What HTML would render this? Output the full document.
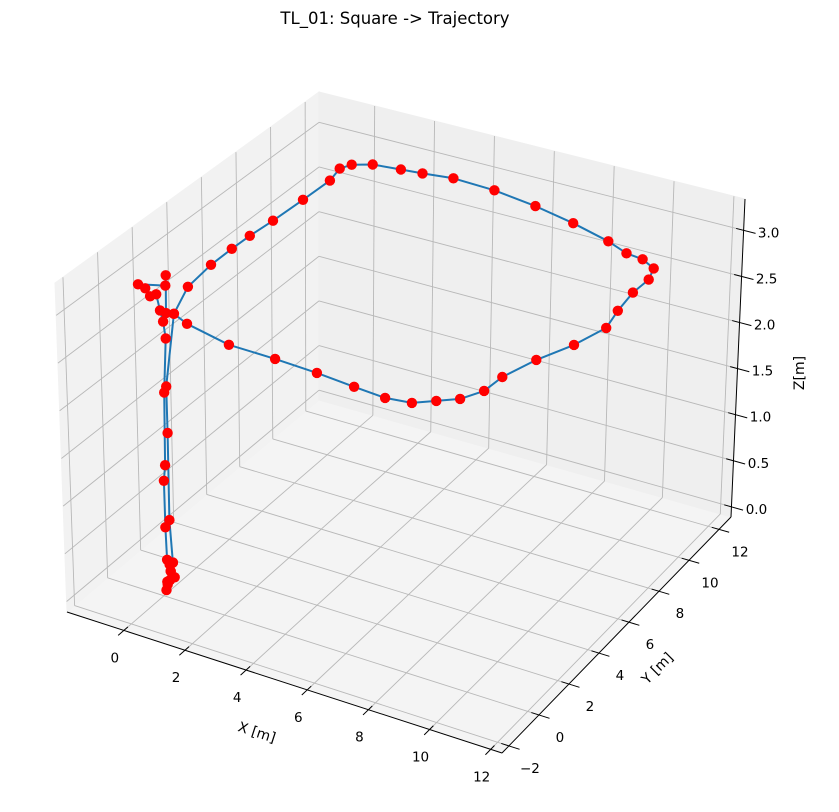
<!DOCTYPE html>
<html><head><meta charset="utf-8">
<style>
html,body{margin:0;padding:0;background:#fff;}
svg{display:block;font-family:"DejaVu Sans","Liberation Sans",sans-serif;}
</style></head>
<body>
<svg id="chart" width="839" height="812" viewBox="0 0 839 812" xmlns="http://www.w3.org/2000/svg">
<text x="395" y="24" font-size="16.5" text-anchor="middle" fill="#000">TL_01: Square -&gt; Trajectory</text>
<g id="panes"></g>
<g id="grid"></g>
<g id="axes"></g>
<g id="series"></g>
<text x="257" y="737" font-size="14" text-anchor="middle" transform="rotate(18 257 732)">X [m]</text>
<text x="657" y="673" font-size="14" text-anchor="middle" transform="rotate(-45 657 668)">Y [m]</text>
<text x="799" y="378" font-size="14" text-anchor="middle" transform="rotate(-90 799 373)">Z[m]</text>
</svg>
<script>
// axis ranges and ticks
const xRange = [-1.86, 12.37];
const yRange = [-2.46, 12.8];
const zRange = [-0.11, 3.34];
const xTicks = [0, 2, 4, 6, 8, 10, 12];
const yTicks = [-2, 0, 2, 4, 6, 8, 10, 12];
const yTickLabels = ["\u22122","0","2","4","6","8","10","12"];
const zTicks = [0.0, 0.5, 1.0, 1.5, 2.0, 2.5, 3.0];
const zTickLabels = ["0.0","0.5","1.0","1.5","2.0","2.5","3.0"];
// trajectory data (metres)
const xs = [0.07,0.2,0.31,0.12,0.18,0.26,0.1,0.07,0.04,0.03,0.08,0.11,0.2,0.13,0.04,-0.07,-0.27,-0.42,-0.65,0.23,0.25,0.23,
 0.2,0.81,2.42,3.92,5.31,6.59,7.64,8.42,8.95,9.47,9.83,9.89,10.25,10.77,11.10,10.91,10.78,10.81,10.62,10.07,9.48,8.66,7.22,5.73,4.19,2.77,1.83,1.16,0.29,-0.23,-0.40,-0.25,-0.29,-0.35,-0.43,-0.45,-0.44,-0.30,0.2,
 0.18,0.19,0.18,0.26,0.18,0.22];
const ys = [0.11,-0.2,0.11,0.0,0.11,0.11,0.2,0.11,0.11,0.11,0.11,0.11,0.11,0.11,0.11,0.11,0.11,0.11,0.11,0.11,0.11,0.11,
 0.62,0.27,-0.22,-0.26,-0.36,-0.53,-0.64,-0.49,0.0,0.48,1.28,2.31,3.75,5.13,6.53,7.63,8.84,9.78,10.46,10.80,10.90,11.30,11.80,12.21,12.51,12.59,12.42,12.32,12.19,11.87,11.46,10.62,9.11,7.45,6.23,5.21,3.97,2.36,0.62,
 0.11,0.11,0.11,0.11,0.11,0.0];
const zs = [0,0,0.1,0.05,0.15,0.25,0.2,0.26,0.6,1.09,1.26,2.03,2.61,2.78,2.89,3.05,3.01,3.08,3.10,3.17,3.28,2.88,
 2.8,2.8,2.8,2.8,2.8,2.8,2.8,2.8,2.8,2.8,2.8,2.8,2.8,2.8,2.8,2.8,2.8,2.8,2.8,2.8,2.8,2.8,2.8,2.8,2.8,2.8,2.8,2.8,2.8,2.8,2.8,2.8,2.8,2.8,2.8,2.8,2.8,2.8,2.8,
 2.1,1.61,0.69,0.25,0.15,0.08];

const NS = "http://www.w3.org/2000/svg";
const C = {
 "000":[67,612],"100":[502,753],"010":[319,400],"110":[731,517],
 "001":[55,283],"101":[505,414],"011":[319,92],"111":[745,199]
};
function proj(x,y,z){
  const u=(x-xRange[0])/(xRange[1]-xRange[0]);
  const v=(y-yRange[0])/(yRange[1]-yRange[0]);
  const w=(z-zRange[0])/(zRange[1]-zRange[0]);
  const r=[0,0];
  for(let i=0;i<2;i++){
    const b=C["000"][i]*(1-u)*(1-v)+C["100"][i]*u*(1-v)+C["010"][i]*(1-u)*v+C["110"][i]*u*v;
    const t=C["001"][i]*(1-u)*(1-v)+C["101"][i]*u*(1-v)+C["011"][i]*(1-u)*v+C["111"][i]*u*v;
    r[i]=b*(1-w)+t*w;
  }
  return r;
}
function mk(tag,attrs,parent){
  const e=document.createElementNS(NS,tag);
  for(const k in attrs)e.setAttribute(k,attrs[k]);
  parent.appendChild(e);return e;
}
function poly(pts){return pts.map(p=>p[0].toFixed(1)+","+p[1].toFixed(1)).join(" ");}
const X0=xRange[0],X1=xRange[1],Y0=yRange[0],Y1=yRange[1],Z0=zRange[0],Z1=zRange[1];

const panes=document.getElementById("panes");
let p=mk("polygon",{points:poly([proj(X0,Y0,Z0),proj(X1,Y0,Z0),proj(X1,Y1,Z0),proj(X0,Y1,Z0)]),fill:"#f4f4f4",stroke:"#f4f4f4"},panes);


p=mk("polygon",{points:poly([proj(X0,Y0,Z0),proj(X0,Y1,Z0),proj(X0,Y1,Z1),proj(X0,Y0,Z1)]),fill:"#f2f2f2",stroke:"#f2f2f2"},panes);


p=mk("polygon",{points:poly([proj(X0,Y1,Z0),proj(X1,Y1,Z0),proj(X1,Y1,Z1),proj(X0,Y1,Z1)]),fill:"#efefef",stroke:"#efefef"},panes);



const grid=document.getElementById("grid");
function gl(a,b,name){
  const l=mk("line",{x1:a[0],y1:a[1],x2:b[0],y2:b[1],stroke:"#b8b8b8","stroke-width":0.9},grid);
  
  
}
xTicks.forEach(t=>{gl(proj(t,Y0,Z0),proj(t,Y1,Z0),"x-gridline");gl(proj(t,Y1,Z0),proj(t,Y1,Z1),"x-gridline");});
yTicks.forEach(t=>{gl(proj(X0,t,Z0),proj(X1,t,Z0),"y-gridline");gl(proj(X0,t,Z0),proj(X0,t,Z1),"y-gridline");});
zTicks.forEach(t=>{gl(proj(X0,Y0,t),proj(X0,Y1,t),"z-gridline");gl(proj(X0,Y1,t),proj(X1,Y1,t),"z-gridline");});

const axes=document.getElementById("axes");
function al(a,b,name,w){
  const l=mk("line",{x1:a[0],y1:a[1],x2:b[0],y2:b[1],stroke:"#000","stroke-width":w},axes);
  
  
}
function tl(x,y,txt,name){
  const t=mk("text",{x:x,y:y+5,"font-size":13.5,"text-anchor":"middle",fill:"#000"},axes);
  t.textContent=txt;
  
  
}
al(proj(X0,Y0,Z0),proj(X1,Y0,Z0),"x-axis-line",1);
al(proj(X1,Y0,Z0),proj(X1,Y1,Z0),"y-axis-line",1);
al(proj(X1,Y1,Z0),proj(X1,Y1,Z1),"z-axis-line",1);
xTicks.forEach(t=>{
  const a=proj(t,Y0+0.25,Z0),b=proj(t,Y0-0.35,Z0);
  al(a,b,"x-tick",1);
  const c=proj(t,Y0,Z0);tl(c[0]-9,c[1]+27,String(t),"x-tick-label");
});
yTicks.forEach((t,i)=>{
  const a=proj(X1-0.25,t,Z0),b=proj(X1+0.35,t,Z0);
  al(a,b,"y-tick",1);
  const c=proj(X1,t,Z0);tl(c[0]+21,c[1]+22,yTickLabels[i],"y-tick-label");
});
zTicks.forEach((t,i)=>{
  const a=proj(X1-0.25,Y1,t),b=proj(X1+0.4,Y1,t);
  al(a,b,"z-tick",1);
  const c=proj(X1,Y1,t);tl(c[0]+25,c[1]+2,zTickLabels[i],"z-tick-label");
});

const series=document.getElementById("series");
const pts=xs.map((x,i)=>proj(x,ys[i],zs[i]));
const line=mk("polyline",{points:poly(pts),fill:"none",stroke:"#1f77b4","stroke-width":2,"stroke-linejoin":"round"},series);


pts.forEach(q=>{
  const c=mk("circle",{cx:q[0].toFixed(1),cy:q[1].toFixed(1),r:5.2,fill:"#ff0000"},series);
  
  
});
</script>
</body></html>
